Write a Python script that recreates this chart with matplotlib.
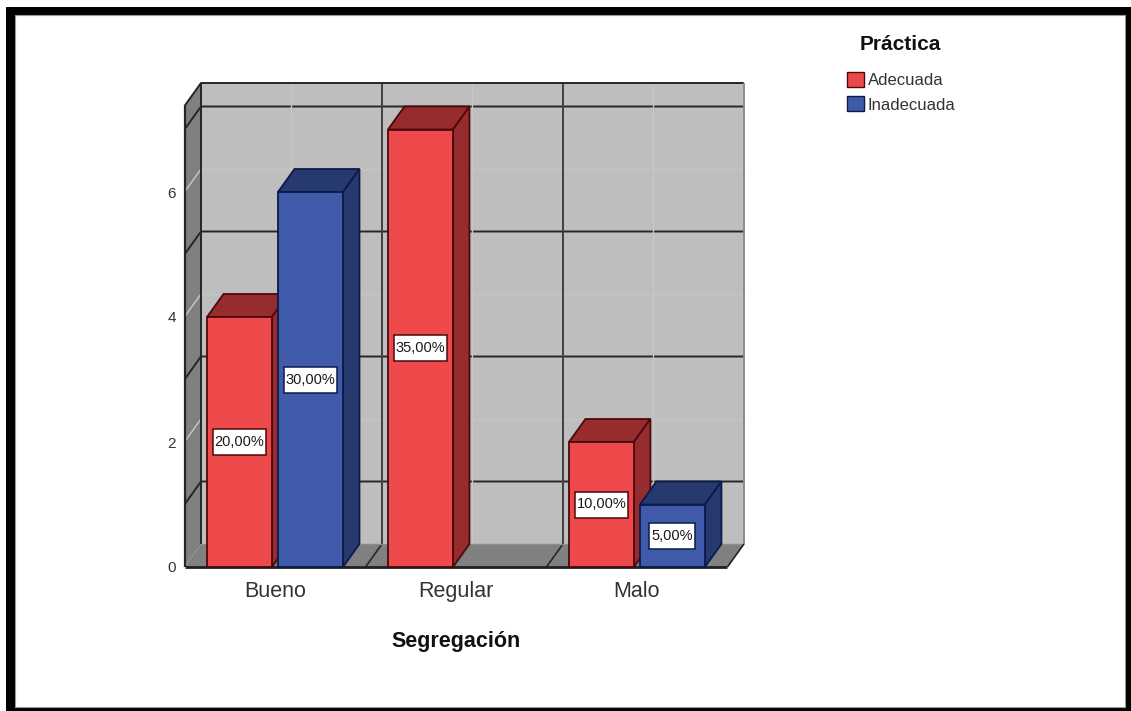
import matplotlib
matplotlib.use("Agg")
import matplotlib.pyplot as plt
from matplotlib.patches import Polygon, Rectangle, Patch

plt.rcParams["font.family"] = ["Liberation Sans", "DejaVu Sans"]

categorias = ["Bueno", "Regular", "Malo"]
adecuada = [4, 7, 2]
inadecuada = [6, 0, 1]
pct_adecuada = ["20,00%", "35,00%", "10,00%"]
pct_inadecuada = ["30,00%", "", "5,00%"]
yticks = [0, 2, 4, 6]

W, H = 1131, 711
ROJO = ("#EE4A4C", "#962C2E", "#4A0A0C")
AZUL = ("#3F5BA9", "#273A70", "#0C1A4A")

fig = plt.figure(figsize=(W / 100, H / 100), dpi=100, facecolor="white")

# marco negro, por debajo de los ejes
fig.add_artist(Rectangle((6 / W, 0), (W - 6) / W, (H - 7) / H, transform=fig.transFigure,
                         facecolor="black", edgecolor="none", zorder=-3))
fig.add_artist(Rectangle((15 / W, 4 / H), (1125 - 15) / W, (707 - 15) / H, transform=fig.transFigure,
                         facecolor="white", edgecolor="#999999", linewidth=0.8, zorder=-2))

# plano frontal del grafico: 62.5 px por unidad en y, 181 px por categoria en x
x0, x1, y0, y1 = 184.5, 728.5, 567, 106
ax = fig.add_axes([x0 / W, 1 - y0 / H, (x1 - x0) / W, (y0 - y1) / H])
ax.patch.set_visible(False)
ax.set_xlim(-0.5, 2.506)
ax.set_ylim(0, 7.376)
for s in ax.spines.values():
    s.set_visible(False)

dx = 16.5 / 181
dy = 23 / 62.5
xl, xr, ytop = -0.5, 2.5, 7.376


def poly(pts, fc, ec="none", lw=0, z=1):
    ax.add_patch(Polygon(pts, closed=True, facecolor=fc, edgecolor=ec, linewidth=lw,
                         zorder=z, clip_on=False, joinstyle="miter"))


def linea(xs, ys, color, lw=1.4, z=1.5):
    ax.plot(xs, ys, color=color, lw=lw, zorder=z, clip_on=False, solid_capstyle="butt")


# paredes y suelo
poly([(xl + dx, dy), (xr + dx, dy), (xr + dx, ytop + dy), (xl + dx, ytop + dy)], "#BEBEBE")
poly([(xl, 0), (xl + dx, dy), (xl + dx, ytop + dy), (xl, ytop)], "#808080")
poly([(xl, 0), (xr, 0), (xr + dx, dy), (xl + dx, dy)], "#808080")

# rejilla: impares oscuras, pares claras
for v in range(1, 8):
    if v % 2:
        linea([xl, xl + dx, xr + dx], [v, v + dy, v + dy], "#262626", 1.4)
    else:
        linea([xl, xl + dx], [v, v + dy], "#C8C8C8", 1.0)
        linea([xl + dx, xr + dx], [v + dy, v + dy], "#C6C6C6", 1.0)
for xb in [0.5, 1.5]:
    linea([xb + dx, xb + dx], [dy, ytop + dy], "#404040", 1.4)
    linea([xb, xb + dx], [0, dy], "#262626", 1.2)
for xc in [0, 1, 2]:
    linea([xc + dx, xc + dx], [dy, ytop + dy], "#C6C6C6", 1.0)

# contorno de las paredes
linea([xl, xl + dx, xr + dx], [ytop, ytop + dy, ytop + dy], "#262626", 1.4, 1.6)
linea([xl, xl], [0, ytop], "#262626", 1.6, 1.6)
linea([xl + dx, xl + dx], [dy, ytop + dy], "#262626", 1.4, 1.6)
linea([xl + dx, xr + dx], [dy, dy], "#8C8C8C", 1.0, 1.6)
linea([xr + dx, xr + dx], [dy, ytop + dy], "#8C8C8C", 1.4, 1.6)
linea([xl, xr], [0, 0], "#202020", 2.0, 1.6)
linea([xr, xr + dx], [0, dy], "#202020", 1.2, 1.6)

ancho = 65 / 181
sep = 3 / 181


def barra_3d(xc, v, colores, z):
    frente, lado, borde = colores
    xa, xb = xc - ancho / 2, xc + ancho / 2
    poly([(xa, v), (xa + dx, v + dy), (xb + dx, v + dy), (xb, v)], lado, borde, 1.3, z)
    poly([(xb, 0), (xb + dx, dy), (xb + dx, v + dy), (xb, v)], lado, borde, 1.3, z)
    ax.bar(xc, v, ancho, color=frente, edgecolor=borde, linewidth=1.3, zorder=z, clip_on=False)


def etiqueta(xc, v, txt, colores):
    # recuadro mas alto que el texto, ancho segun el numero de caracteres
    w = (53 if len(txt) > 5 else 46) / 181
    h = 26 / 62.5
    ax.add_patch(Rectangle((xc - w / 2, v / 2 - h / 2), w, h, facecolor="white",
                           edgecolor=colores[2], linewidth=1.1, zorder=19, clip_on=False))
    ax.text(xc, v / 2, txt, ha="center", va="center", fontsize=10.5, color="#1A1A1A", zorder=20)


z = 3
for i in range(len(categorias)):
    xr_c = i - ancho / 2 - sep
    xa_c = i + ancho / 2 + sep
    if adecuada[i] > 0:
        barra_3d(xr_c, adecuada[i], ROJO, z)
        etiqueta(xr_c, adecuada[i], pct_adecuada[i], ROJO)
    if inadecuada[i] > 0:
        barra_3d(xa_c, inadecuada[i], AZUL, z + 1)
        etiqueta(xa_c, inadecuada[i], pct_inadecuada[i], AZUL)
    z += 2

ax.set_xticks(range(len(categorias)))
ax.set_xticklabels(categorias, fontsize=15.5, color="#333333")
ax.set_yticks(yticks)
ax.set_yticklabels([str(v) for v in yticks], fontsize=11, color="#333333")
ax.tick_params(axis="x", length=0, pad=10)
ax.tick_params(axis="y", length=0, pad=6)
ax.set_xlabel("Segregación", fontsize=15.5, fontweight="bold", color="#111111", labelpad=21)

fig.text(900 / W, 1 - 44 / H, "Práctica", ha="center", va="center", fontsize=15,
         fontweight="bold", color="#111111")
fig.legend(handles=[Patch(facecolor=ROJO[0], edgecolor=ROJO[2], label="Adecuada"),
                    Patch(facecolor=AZUL[0], edgecolor=AZUL[2], label="Inadecuada")],
           loc="upper left", bbox_to_anchor=(847 / W, 1 - 72 / H),
           frameon=False, fontsize=12, handlelength=1.0, handleheight=1.0,
           handletextpad=0.25, labelspacing=0.5, borderpad=0, borderaxespad=0,
           labelcolor="#333333")

fig.savefig("out.png", dpi=100)
